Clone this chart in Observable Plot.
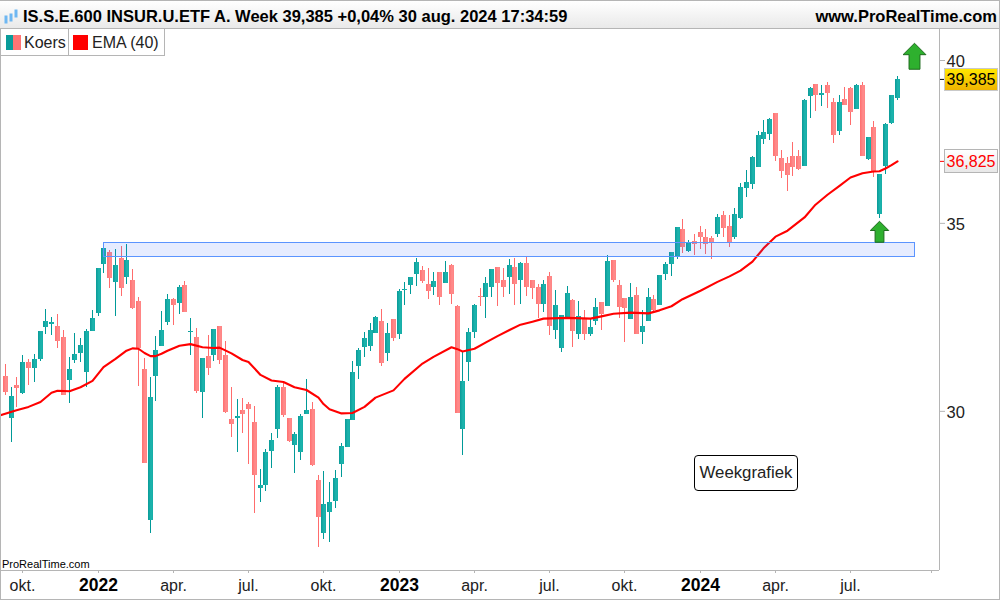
<!DOCTYPE html>
<html>
<head>
<meta charset="utf-8">
<script src="https://cdn.jsdelivr.net/npm/d3@7"></script>
<script src="https://cdn.jsdelivr.net/npm/@observablehq/plot@0.6"></script>
<style>
  html,body{margin:0;padding:0;background:#fff;font-family:"Liberation Sans",Arial,sans-serif;}
  #page{position:relative;width:1000px;height:600px;overflow:hidden;}
  #head{position:absolute;left:0;top:0;width:1000px;height:28px;box-sizing:border-box;border-top:1px solid #b5b5b5;background:linear-gradient(#ffffff,#e9e9e9);font-weight:bold;font-size:16.5px;color:#000;}
  #head .t{position:absolute;left:23px;top:6px;white-space:nowrap;}
  #head .u{position:absolute;right:3px;top:6px;white-space:nowrap;}
  #head svg{position:absolute;left:4px;top:7px;}
  #sep{position:absolute;left:0;top:28px;width:1000px;height:1px;background:#b5b5b5;}
  #chart{position:absolute;left:0;top:29px;}
  .legend{position:absolute;top:29px;height:27px;box-sizing:border-box;background:#fff;border:1px solid #b5b5b5;border-top:0;font-size:16px;color:#222;line-height:28px;white-space:nowrap;}
  .sw{position:absolute;top:6px;width:15px;height:15px;}
  .price{position:absolute;left:944px;width:54px;box-sizing:border-box;font-size:16px;text-align:center;white-space:nowrap;}
  #note{position:absolute;left:694px;top:455px;width:104px;height:36px;box-sizing:border-box;border:1px solid #000;border-radius:4px;background:#fff;font-size:16.8px;line-height:34px;text-align:center;color:#222;white-space:nowrap;}
  #brand{position:absolute;left:2px;top:558px;font-size:11px;color:#000;white-space:nowrap;}
  .edge{position:absolute;background:#b5b5b5;}
</style>
</head>
<body>
<div id="page">
  <div id="head">
    <svg width="16" height="18" viewBox="0 0 16 18"><g fill="#6fb7f2" stroke="#6fb7f2"><rect x="1" y="8" width="2" height="7"/><rect x="6" y="6" width="2" height="7"/><rect x="11" y="2" width="2" height="7"/></g></svg>
    <span class="t" id="titleText"></span>
    <span class="u" id="siteText"></span>
  </div>
  <div id="sep"></div>
  <div id="chart"></div>
  <div class="legend" style="left:0;width:69px;"><span class="sw" style="left:5px;background:linear-gradient(90deg,#0a9c9a 0 50%,#ff7474 50% 100%);"></span><span style="position:absolute;left:23px;">Koers</span></div>
  <div class="legend" style="left:68px;width:97px;"><span class="sw" style="left:4px;background:#ff0000;"></span><span style="position:absolute;left:23px;">EMA (40)</span></div>
  <div class="price" id="lastBox" style="top:68px;height:23px;line-height:21px;border:1px solid #c9c9c9;background:linear-gradient(#ffe600,#f0b400);color:#000;"></div>
  <div class="price" id="emaBox" style="top:149px;height:24px;line-height:23px;border:1px solid #b5b5b5;background:linear-gradient(#ffffff,#e8e8e8);color:#ff0000;"></div>
  <div id="note"></div>
  <div id="brand"></div>
  <div class="edge" style="left:0;top:28px;width:1px;height:572px;"></div>
  <div class="edge" style="left:999px;top:0;width:1px;height:600px;"></div>
  <div class="edge" style="left:0;top:599px;width:1000px;height:1px;"></div>
</div>
<script>
const titleLabel = "IS.S.E.600 INSUR.U.ETF A. Week 39,385 +0,04% 30 aug. 2024 17:34:59";
const siteLabel = "www.ProRealTime.com";
const brandLabel = "ProRealTime.com";
const noteLabel = "Weekgrafiek";
const lastPrice = 39.385;
const lastEma = 36.825;
const lastLabel = "39,385";
const emaLabel = "36,825";

// weekly candles, first week starts 2021-09-13 (u = rising, d = falling)
const direction = (
  "dududuuuud"+"duuuuuuudu"+"duddduuuud"+"ududududdd"+"uddduuuudd"+
  "uuudduuuuu"+"uuuuududuu"+"uuddududdu"+"uuduuddudu"+"ddduduuudu"+
  "duududddud"+"uuduuuudud"+"dddudduuuu"+"uuuddddduu"+"dudduddudu"+"duuuu").split("");

const bodyTop = [
30.87,30.37,30.65,31.23,31.23,31.31,32.03,32.29,32.27,32.16,
31.87,31.05,31.44,31.66,32.03,32.37,33.73,34.29,34.17,33.81,
34.01,33.95,33.40,32.82,31.05,30.35,31.54,32.05,32.88,32.88,
33.21,33.26,32.03,31.87,31.33,31.38,32.08,32.16,31.41,29.80,
29.88,30.03,30.17,29.73,28.24,29.01,29.29,30.60,30.60,29.83,
29.44,29.88,30.03,30.05,28.35,27.80,27.84,28.40,29.15,29.80,
30.97,31.54,31.84,32.05,32.40,32.29,31.97,32.35,33.10,33.15,
33.48,33.90,33.67,33.29,33.37,33.62,33.62,33.81,32.69,30.75,
32.00,32.72,32.96,33.32,33.70,33.76,33.40,33.81,33.76,33.87,
33.87,33.40,33.21,33.29,33.51,32.72,32.45,33.04,32.85,32.43,
32.37,32.13,32.66,32.80,33.92,33.95,33.26,32.90,32.93,32.99,
32.16,32.93,32.88,33.54,33.84,34.17,34.88,34.82,34.43,34.48,
34.74,34.60,34.57,35.17,35.22,34.91,35.25,36.04,36.19,36.94,
37.62,37.71,38.11,38.30,36.91,36.76,36.97,36.97,38.71,39.09,
39.22,38.93,39.19,38.65,38.65,38.74,39.09,39.19,39.19,37.55,
37.86,36.43,37.96,38.87,39.385];

const bodyBottom = [
30.47,29.83,30.57,30.45,31.08,31.08,31.31,32.13,32.21,31.76,
30.40,30.77,31.28,31.46,30.97,32.03,32.51,33.84,33.46,33.35,
33.18,33.48,32.64,31.59,28.75,27.43,30.87,31.64,32.27,32.72,
32.77,32.53,32.00,30.50,30.47,31.08,31.41,31.28,29.98,29.68,
29.83,29.93,30.05,28.47,28.17,28.24,29.03,29.56,29.90,29.27,
29.17,29.01,29.93,28.70,27.50,27.14,27.61,27.87,28.73,29.13,
29.78,31.13,31.61,31.64,31.97,31.20,31.46,31.84,31.95,33.12,
33.26,33.56,33.37,33.10,33.21,32.93,33.32,33.01,29.95,29.56,
31.23,32.00,32.93,32.93,33.21,33.32,33.21,33.48,33.29,33.40,
33.21,33.18,32.74,32.74,32.16,32.05,31.59,32.35,32.03,31.95,
31.95,31.95,32.29,32.48,32.69,33.40,32.66,32.64,32.35,31.95,
32.00,32.29,32.59,32.72,33.56,33.84,34.06,34.31,34.20,34.40,
34.60,34.40,34.45,34.68,34.85,34.45,34.60,35.14,36.01,36.13,
36.64,37.49,37.65,36.97,36.52,36.40,36.64,36.58,36.67,38.83,
38.87,38.87,38.93,37.62,37.74,38.55,38.33,38.43,36.97,36.88,
36.49,35.25,36.67,37.99,38.77];

const high = [
31.18,30.60,30.85,31.41,31.31,31.44,32.03,32.61,32.40,32.48,
32.05,31.36,31.97,31.84,32.08,32.59,33.73,34.29,34.23,34.26,
34.34,34.40,33.70,32.93,31.33,30.85,31.90,32.56,33.01,32.90,
33.26,33.37,32.37,32.11,31.33,31.92,32.08,32.16,31.76,30.60,
30.30,30.32,30.22,30.12,28.61,29.08,29.45,30.65,30.70,29.83,
29.48,29.93,30.80,30.22,28.47,28.56,28.30,28.59,29.22,29.80,
31.25,31.59,32.00,32.24,32.43,32.61,32.24,32.35,33.15,33.34,
33.48,34.01,33.78,33.73,33.62,33.62,33.92,33.84,32.72,31.51,
32.11,32.74,33.18,33.48,33.70,33.76,33.73,33.98,34.01,33.90,
34.04,33.40,33.29,33.40,33.62,33.12,32.45,33.23,32.88,32.82,
32.59,32.37,32.90,32.80,34.09,33.95,33.40,32.90,33.32,33.21,
32.59,33.18,32.99,33.54,33.90,34.17,34.88,35.11,34.51,34.68,
34.91,34.82,34.63,35.25,35.34,35.22,35.43,36.16,36.55,36.97,
37.74,38.08,38.14,38.30,37.16,36.94,37.40,37.16,38.74,39.13,
39.22,39.19,39.29,38.77,38.87,39.13,39.13,39.22,39.29,37.55,
38.05,36.43,37.99,38.87,39.48];

const low = [
30.40,29.24,30.10,30.42,30.65,30.72,31.25,31.95,31.92,31.59,
30.40,30.20,31.20,31.23,30.60,32.03,32.43,33.59,33.18,32.43,
32.96,33.29,32.61,30.62,28.75,27.14,30.25,31.64,32.19,32.19,
32.48,32.53,31.41,30.45,29.83,30.90,31.25,31.18,29.95,29.36,
29.01,29.46,28.73,27.59,27.84,28.10,28.63,29.34,29.85,29.24,
28.51,28.82,29.93,28.68,26.84,27.01,26.95,27.71,28.42,29.13,
29.78,30.80,31.36,31.51,31.97,31.13,31.25,31.76,31.82,32.72,
33.01,33.23,33.32,32.88,32.99,32.72,33.32,32.74,29.95,28.94,
30.75,31.84,32.69,32.37,32.93,32.69,32.93,33.01,32.72,32.74,
32.96,32.88,32.37,32.53,31.92,31.82,31.49,32.35,31.61,31.82,
31.79,31.90,32.19,32.05,32.69,33.35,32.37,31.74,32.35,31.95,
31.69,32.29,32.51,32.72,33.40,33.51,33.98,34.14,34.17,34.09,
34.26,34.12,33.98,34.60,34.60,34.31,34.54,35.11,35.75,35.98,
36.64,37.34,37.46,36.82,36.31,35.93,36.37,36.55,36.67,38.14,
38.36,38.52,38.46,37.37,37.62,38.55,37.93,38.43,36.97,36.85,
36.34,35.14,36.43,37.96,38.71];

// EMA (40) read at these week numbers (0 = 2021-09-13)
const emaWeek = [-1,2,4,6,8,9,11,13,15,17,19,21,22,23,24,25,26,27,28,30,32,34,36,37,39,41,42,44,46,48,50,52,54,55,56,58,60,62,64,67,69,72,74,77,78,79,81,83,85,87,89,91,93,97,101,103,105,108,111,113,115,117,120,123,125,127,129,131,133,135,138,140,142,144,146,148,150,151,152,153,154];
const emaValue = [29.90,30.03,30.11,30.23,30.46,30.51,30.50,30.60,30.76,31.11,31.32,31.53,31.59,31.58,31.47,31.39,31.39,31.45,31.53,31.66,31.70,31.62,31.60,31.61,31.46,31.29,31.24,30.91,30.77,30.73,30.60,30.53,30.34,30.18,30.05,29.95,29.96,30.11,30.34,30.52,30.81,31.20,31.37,31.62,31.57,31.51,31.58,31.74,31.91,32.07,32.21,32.29,32.37,32.39,32.37,32.43,32.50,32.53,32.51,32.59,32.70,32.89,33.12,33.36,33.51,33.67,33.92,34.29,34.62,34.79,35.17,35.54,35.83,36.09,36.34,36.47,36.52,36.53,36.61,36.71,36.825];

const tickDates = ["2021-10-04","2022-01-03","2022-04-04","2022-07-04","2022-10-03","2023-01-02","2023-04-03","2023-07-03","2023-10-02","2024-01-01","2024-04-01","2024-07-01","2024-10-07"];
const tickLabels = ["okt.","2022","apr.","jul.","okt.","2023","apr.","jul.","okt.","2024","apr.","jul.",""];
const priceTicks = [30,35,40];

const zoneStart = "2022-01-10", zoneEnd = "2024-09-16";
const zoneLow = 34.05, zoneHigh = 34.44;
const bigArrowDate = "2024-09-16", bigArrowPrice = 40.14;
const smallArrowDate = "2024-08-05", smallArrowPrice = 34.76;

const xStart = new Date("2021-09-07T01:48:00Z"), xEnd = new Date("2024-10-16T07:26:00Z");
const yLow = 26.33, yHigh = 41.03;

const frameWidth = 939;
const weeks = d3.utcMonday.range(new Date("2021-09-13"), new Date("2024-08-27"));
const msPerPixel = (xEnd - xStart) / frameWidth;
const candleIdx = d3.range(weeks.length);
const weekMs = 7 * 864e5;

const arrowSymbol = {
  draw(ctx, size) {
    const r = Math.sqrt(size / Math.PI), h = 2 * r, hw = .44 * h, sw = .21 * h, hh = .44 * h;
    ctx.moveTo(0, -r); ctx.lineTo(hw, -r + hh); ctx.lineTo(sw, -r + hh); ctx.lineTo(sw, r);
    ctx.lineTo(-sw, r); ctx.lineTo(-sw, -r + hh); ctx.lineTo(-hw, -r + hh); ctx.closePath();
  }
};

const monthIdx = d3.range(tickDates.length).filter(i => !/^\d{4}$/.test(tickLabels[i]));
const yearIdx = d3.range(tickDates.length).filter(i => /^\d{4}$/.test(tickLabels[i]));
const labelOf = new Map(tickDates.map((d, i) => [+new Date(d), tickLabels[i]]));
const fmtTick = d => labelOf.get(+d) ?? "";

const gray = "#b5b5b5";
const wickColor = i => direction[i] === "u" ? "#009a98" : "#ff6c6c";

const plot = Plot.plot({
  width: 1000, height: 571,
  marginLeft: 0, marginRight: 61, marginTop: 0, marginBottom: 30,
  style: {background: "transparent", fontFamily: '"Liberation Sans",Arial,sans-serif', color: "#222", overflow: "visible"},
  x: {type: "utc", domain: [xStart, xEnd], round: true, axis: null},
  y: {type: "log", domain: [yLow, yHigh], axis: null},
  marks: [
    Plot.ruleX(candleIdx, {x: i => weeks[i], y1: i => low[i], y2: i => high[i], stroke: wickColor, strokeWidth: 1, shapeRendering: "crispEdges"}),
    Plot.rect(candleIdx.filter(i => direction[i] === "u"), {
      x1: i => new Date(+weeks[i] - 2 * msPerPixel), x2: i => new Date(+weeks[i] + 3 * msPerPixel),
      y1: i => bodyBottom[i], y2: i => bodyTop[i], fill: "url(#tealBody)", shapeRendering: "crispEdges"}),
    Plot.rect(candleIdx.filter(i => direction[i] === "d"), {
      x1: i => new Date(+weeks[i] - 2 * msPerPixel), x2: i => new Date(+weeks[i] + 3 * msPerPixel),
      y1: i => bodyBottom[i], y2: i => bodyTop[i], fill: "url(#redBody)", shapeRendering: "crispEdges"}),
    Plot.line(emaWeek.map((w, i) => i), {
      x: i => new Date(+weeks[0] + emaWeek[i] * weekMs), y: i => emaValue[i],
      stroke: "#ff0000", strokeWidth: 2.1, curve: "linear", clip: true}),
    Plot.rect([0], {x1: () => new Date(zoneStart), x2: () => new Date(zoneEnd), y1: () => zoneLow, y2: () => zoneHigh,
      fill: "#2f62ff", fillOpacity: 0.12, stroke: "#5b94ff", strokeWidth: 1, shapeRendering: "crispEdges"}),
    Plot.dot([0], {x: () => new Date(bigArrowDate), y: () => bigArrowPrice, r: 13, symbol: arrowSymbol, fill: "#2eb02e", stroke: "#1d6b1d", strokeWidth: 1}),
    Plot.dot([0], {x: () => new Date(smallArrowDate), y: () => smallArrowPrice, r: 10.5, symbol: arrowSymbol, fill: "#2eb02e", stroke: "#1d6b1d", strokeWidth: 1}),
    Plot.ruleX([xEnd], {stroke: gray, strokeWidth: 1}),
    Plot.ruleY([yLow], {stroke: gray, strokeWidth: 1}),
    Plot.axisX(monthIdx.map(i => new Date(tickDates[i])), {anchor: "bottom", tickSize: 3, tickPadding: 6, fontSize: 16, tickFormat: fmtTick, stroke: gray, fill: "#222", label: null}),
    Plot.axisX(yearIdx.map(i => new Date(tickDates[i])), {anchor: "bottom", tickSize: 3, tickPadding: 5, fontSize: 17.5, fontWeight: "bold", tickFormat: fmtTick, stroke: gray, fill: "#000", label: null}),
    Plot.axisY(priceTicks, {anchor: "right", tickSize: 5, tickFormat: () => "", stroke: gray, label: null}),
    Plot.axisY(priceTicks, {anchor: "right", tickSize: 0, tickPadding: 7, dy: 1, fontSize: 16.5, fill: "#222", label: null}),
    Plot.axisY([lastPrice], {anchor: "right", tickSize: 5, tickFormat: () => "", stroke: "#000", label: null}),
    Plot.axisY([lastEma], {anchor: "right", tickSize: 5, tickFormat: () => "", stroke: "#ff0000", label: null})
  ]
});

const defs = d3.select(plot).append("defs");
const gradient = (id, stops) => {
  const g = defs.append("linearGradient").attr("id", id).attr("x1", 0).attr("x2", 1).attr("y1", 0).attr("y2", 0);
  stops.forEach(([o, c]) => g.append("stop").attr("offset", o).attr("stop-color", c));
};
gradient("tealBody", [[0, "#0a9a98"], [0.6, "#1db5ae"], [1, "#16aca6"]]);
gradient("redBody", [[0, "#ff6f6f"], [0.6, "#ff8c8c"], [1, "#ff8383"]]);

document.getElementById("chart").append(plot);
document.getElementById("titleText").textContent = titleLabel;
document.getElementById("siteText").textContent = siteLabel;
document.getElementById("lastBox").textContent = lastLabel;
document.getElementById("emaBox").textContent = emaLabel;
document.getElementById("note").textContent = noteLabel;
document.getElementById("brand").textContent = brandLabel;
</script>
</body>
</html>
